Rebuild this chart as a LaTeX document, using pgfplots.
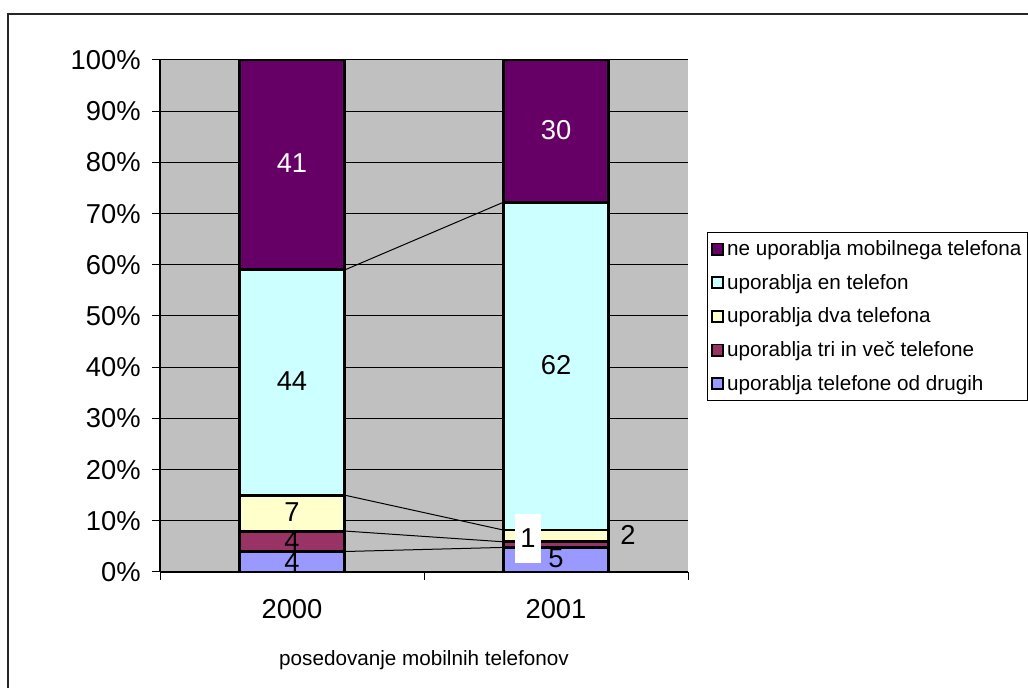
\documentclass[border=0pt]{standalone}
\usepackage{fontspec}
\setmainfont{Liberation Sans}
\usepackage{pgfplots}
\pgfplotsset{compat=1.18}

\definecolor{xlgray}{HTML}{C0C0C0}
\definecolor{xlpurple}{HTML}{660066}
\definecolor{xlcyan}{HTML}{CCFFFF}
\definecolor{xlyellow}{HTML}{FFFFCC}
\definecolor{xlmaroon}{HTML}{993366}
\definecolor{xlblue}{HTML}{9999FF}

\newcommand{\bigfnt}{\fontsize{20.5}{24}\selectfont}
\newcommand{\midfnt}{\fontsize{15.5}{18}\selectfont}

\begin{document}
\begin{tikzpicture}
\useasboundingbox (0,0) rectangle (771pt,516pt);
% outer chart frame (only left and top edges are inside the picture)
\draw[line width=1pt, black!85] (6pt,-2pt) -- (6pt,505.5pt) -- (775pt,505.5pt);

\pgfplotsset{chartbase/.style={
    at={(120pt,87pt)}, anchor=south west, scale only axis,
    width=396pt, height=384pt,
    xmin=-0.5, xmax=1.5, ymin=0, ymax=100,
}}

\begin{axis}[chartbase,
    ybar stacked, bar width=0.4,
    axis background/.style={fill=xlgray},
    axis x line*=bottom, axis y line*=left,
    axis line style={black, line width=0.9pt},
    ymajorgrids, grid style={black, line width=0.75pt},
    ytick={0,10,...,100},
    yticklabels={0\%,10\%,20\%,30\%,40\%,50\%,60\%,70\%,80\%,90\%,100\%},
    xtick={-0.5,0.5,1.5}, xticklabels={},
    extra x ticks={0,1}, extra x tick labels={2000,2001},
    extra x tick style={major tick length=0pt, grid=none},
    tick align=outside, major tick length=6pt,
    tick style={black, line width=0.75pt},
    tick label style={font=\bigfnt},
    yticklabel style={xshift=-5pt},
    xticklabel style={yshift=-17pt},
    xlabel={posedovanje mobilnih telefonov},
    xlabel style={font=\midfnt, at={(axis description cs:0.5,-0.172)}, anchor=center},
    reverse legend,
    legend style={at={(1.036,0.664)}, anchor=north west, draw=black,
        line width=0.9pt, font=\midfnt, row sep=8.5pt,
        inner xsep=2.5pt, inner ysep=4pt,
        nodes={inner xsep=2.5pt}, cells={anchor=west}},
    legend image code/.code={\draw[#1, draw=black, line width=1.3pt] (0pt,-4.2pt) rectangle (8.4pt,4.2pt);},
]
\addplot[fill=xlblue, draw=black, line width=2.2pt] coordinates {(0,4) (1,4.8)};
\addlegendentry{uporablja telefone od drugih}
\addplot[fill=xlmaroon, draw=black, line width=2.2pt] coordinates {(0,4) (1,1.1)};
\addlegendentry{uporablja tri in več telefone}
\addplot[fill=xlyellow, draw=black, line width=2.2pt] coordinates {(0,7) (1,2.3)};
\addlegendentry{uporablja dva telefona}
\addplot[fill=xlcyan, draw=black, line width=2.2pt] coordinates {(0,44) (1,64.0)};
\addlegendentry{uporablja en telefon}
\addplot[fill=xlpurple, draw=black, line width=2.2pt] coordinates {(0,41) (1,27.8)};
\addlegendentry{ne uporablja mobilnega telefona}
\end{axis}

% series lines and data labels
\begin{axis}[chartbase, hide axis]
\addplot[black, line width=0.75pt] coordinates {(0.2,4) (0.8,4.8)};
\addplot[black, line width=0.75pt] coordinates {(0.2,8) (0.8,5.9)};
\addplot[black, line width=0.75pt] coordinates {(0.2,15) (0.8,8.2)};
\addplot[black, line width=0.75pt] coordinates {(0.2,59) (0.8,72.2)};
\node[font=\bigfnt, text=white] at (axis cs:0,79.9) {41};
\node[font=\bigfnt, text=white] at (axis cs:1,86.3) {30};
\node[font=\bigfnt] at (axis cs:0,37.3) {44};
\node[font=\bigfnt] at (axis cs:1,40.4) {62};
\node[font=\bigfnt] at (axis cs:0,11.7) {7};
\node[font=\bigfnt] at (axis cs:0,6.0) {4};
\node[font=\bigfnt] at (axis cs:0,2.0) {4};
\node[font=\bigfnt] at (axis cs:1,2.7) {5};
\node[font=\bigfnt] at (axis cs:1.273,7.2) {2};
\node[font=\bigfnt, fill=white, minimum width=19.5pt, minimum height=36.75pt, inner sep=0pt] at (axis cs:0.894,6.6) {1};
\end{axis}
\end{tikzpicture}
\end{document}
